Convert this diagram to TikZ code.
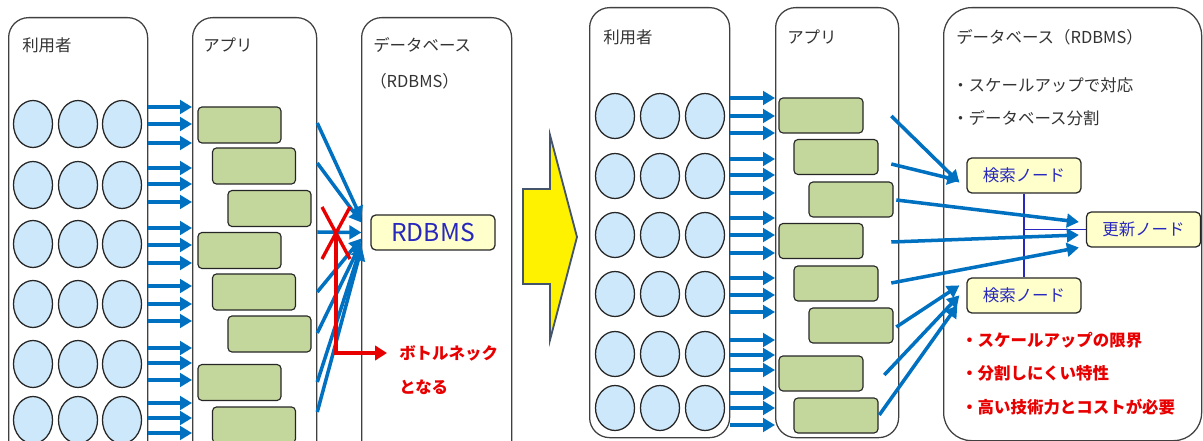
\documentclass[tikz,border=0pt]{standalone}
\usepackage{fontspec}
\setmainfont{Noto Sans CJK JP}
\usetikzlibrary{shapes.geometric,arrows.meta,calc}
\definecolor{userblue}{RGB}{205,232,250}
\definecolor{appgreen}{RGB}{195,214,155}
\definecolor{dbyellow}{RGB}{255,255,204}
\definecolor{flowblue}{RGB}{0,112,192}
\definecolor{labelblue}{RGB}{40,40,190}
\definecolor{warnred}{RGB}{232,0,0}
\definecolor{arrowedge}{RGB}{68,84,106}
\tikzset{
  panel/.style={draw=black!75, line width=0.9pt, rounded corners=5mm, anchor=north west, inner sep=0},
  user/.style={ellipse, draw=black!85, line width=0.9pt, fill=userblue, minimum width=9.75mm, minimum height=11.75mm, inner sep=0},
  app/.style={draw=black!85, line width=0.8pt, fill=appgreen, rounded corners=1mm, minimum width=20.75mm, minimum height=9mm, inner sep=0},
  dbnode/.style={draw=black!85, line width=0.9pt, fill=dbyellow, rounded corners=1.2mm, text=labelblue, minimum width=28.5mm, minimum height=8.75mm, inner sep=0, font=\fontsize{11.7}{14}\selectfont},
  title/.style={anchor=west, inner sep=0, text=black!80, font=\fontsize{11.7}{14}\selectfont},
  note/.style={anchor=west, inner sep=0, text=warnred, font=\fontsize{11.7}{14}\selectfont\bfseries},
  flow/.style={draw=flowblue, line width=2.5pt, -{Triangle[length=3mm,width=3.4mm]}},
  link/.style={draw=labelblue, line width=1pt},
  cross/.style={draw=warnred, line width=2.4pt}
}
\begin{document}
\begin{tikzpicture}[x=0.25mm,y=-0.25mm]
  \useasboundingbox (0,0) rectangle (1203,441);
  \clip (0,0) rectangle (1203,441);

  % before
  \node[panel, minimum width=34.75mm, minimum height=113.25mm] (lusers) at (8,17) {};
  \node[panel, minimum width=31mm, minimum height=113.25mm] (lapps) at (192,17) {};
  \node[panel, minimum width=37.5mm, minimum height=113.25mm] (ldb) at (361,17) {};
  \node[title] (lusers-t) at (22,45) {利用者};
  \node[title] (lapps-t) at (203,45) {アプリ};
  \node[title] (ldb-t) at (373,45) {データベース};
  \node[title] (ldb-s) at (370,81) {（RDBMS）};

  \foreach \r/\y in {1/124,2/185,3/244,4/304,5/364,6/420}
    \foreach \c/\x in {1/33,2/78,3/122}
      \node[user] (lu-\r-\c) at (\x,\y) {};
  \foreach \i/\x/\y in {1/239.5/125,2/254/166,3/269.5/208.5,4/239.5/250.5,5/254/292,6/269.5/334,7/239.5/382.5,8/254/425}
    \node[app] (lapp\i) at (\x,\y) {};
  \foreach \y in {107,124,143,168,184,202,228,245,263,286,304,321,348,363,380,403,418,433}
    \draw[flow] (lusers.east |- 0,\y) -- (lapps.west |- 0,\y);

  \node[dbnode, minimum width=31mm, font=\fontsize{17.5}{20}\selectfont] (rdbms) at (433,232.5) {RDBMS};
  \foreach \y/\dy in {123/-14,163/-10,232/0,292/6,333/10,382/13,412/16}
    \draw[flow] (lapps.east |- 0,\y) -- ($(rdbms.west)+(-9,\dy)$);

  \coordinate (jam) at (336,233);
  \node[note] (bneck) at (399,353) {ボトルネック};
  \node[note] (bneck2) at (399,387) {となる};
  \draw[cross] ($(jam)+(-14,-26)$) -- ($(jam)+(14,26)$);
  \draw[cross] ($(jam)+(14,-26)$) -- ($(jam)+(-14,26)$);
  \draw[cross, -{Triangle[length=3mm,width=3.6mm]}] (jam) |- ($(bneck.west)+(-12,0)$);

  % step over
  \draw[fill=yellow, draw=arrowedge, line width=1.3pt] (523,189) -- (550,189) -- (550,135) -- (577,237) -- (550,340) -- (550,284) -- (523,284) -- cycle;

  % after
  \node[panel, minimum width=35mm, minimum height=107.5mm] (rusers) at (589,7) {};
  \node[panel, minimum width=30.75mm, minimum height=107.5mm] (rapps) at (775,7) {};
  \node[panel, rounded corners=7mm, minimum width=64.5mm, minimum height=108.25mm] (rdb) at (943,7) {};
  \node[title] (rusers-t) at (603,37) {利用者};
  \node[title] (rapps-t) at (787,37) {アプリ};
  \node[title] (rdb-t) at (956,37) {データベース（RDBMS）};
  \node[title] (plan1) at (952,85) {・スケールアップで対応};
  \node[title] (plan2) at (952,118) {・データベース分割};

  \foreach \r/\y in {1/116,2/176,3/235,4/294,5/354,6/408}
    \foreach \c/\x in {1/615,2/660,3/705}
      \node[user, minimum height=11.25mm] (ru-\r-\c) at (\x,\y) {};
  \foreach \i/\x/\y in {1/821/115.5,2/836/157,3/851/199.5,4/821/241,5/836/283.5,6/851/325.5,7/821/373.5,8/836/415.5}
    \node[app, minimum width=21mm, minimum height=8.75mm] (rapp\i) at (\x,\y) {};
  \foreach \y in {98,116,133,159,175,193,218,235,253,278,295,312,340,355,370,393,408,425}
    \draw[flow] (rusers.east |- 0,\y) -- (rapps.west |- 0,\y);

  \node[dbnode] (search1) at (1024,175.5) {検索ノード};
  \node[dbnode] (update) at (1143.5,229.5) {更新ノード};
  \node[dbnode] (search2) at (1024,295.5) {検索ノード};
  \draw[link] (search1.south) -- (search2.north);
  \draw[link] (search1.south |- update.west) -- (update.west);

  \foreach \sx/\sy/\t/\dx/\dy in {-8/116/search1.south west/-7/-11, -8/164/search1.south west/-7/-13,
      -3/200/update.west/-7/-7.5, -8/242/update.west/-7/5.5, -8/283/update.west/-7/18,
      -3/327/search2.north west/-7/8, -15/375/search2.north west/-7/18, -20/415/search2.north west/-9/28}
    \draw[flow] ($(rapps.east |- 0,\sy)+(\sx,0)$) -- ($(\t)+(\dx,\dy)$);

  \node[note] (limit1) at (961,340) {・スケールアップの限界};
  \node[note] (limit2) at (961,373) {・分割しにくい特性};
  \node[note] (limit3) at (961,407) {・高い技術力とコストが必要};
\end{tikzpicture}
\end{document}
